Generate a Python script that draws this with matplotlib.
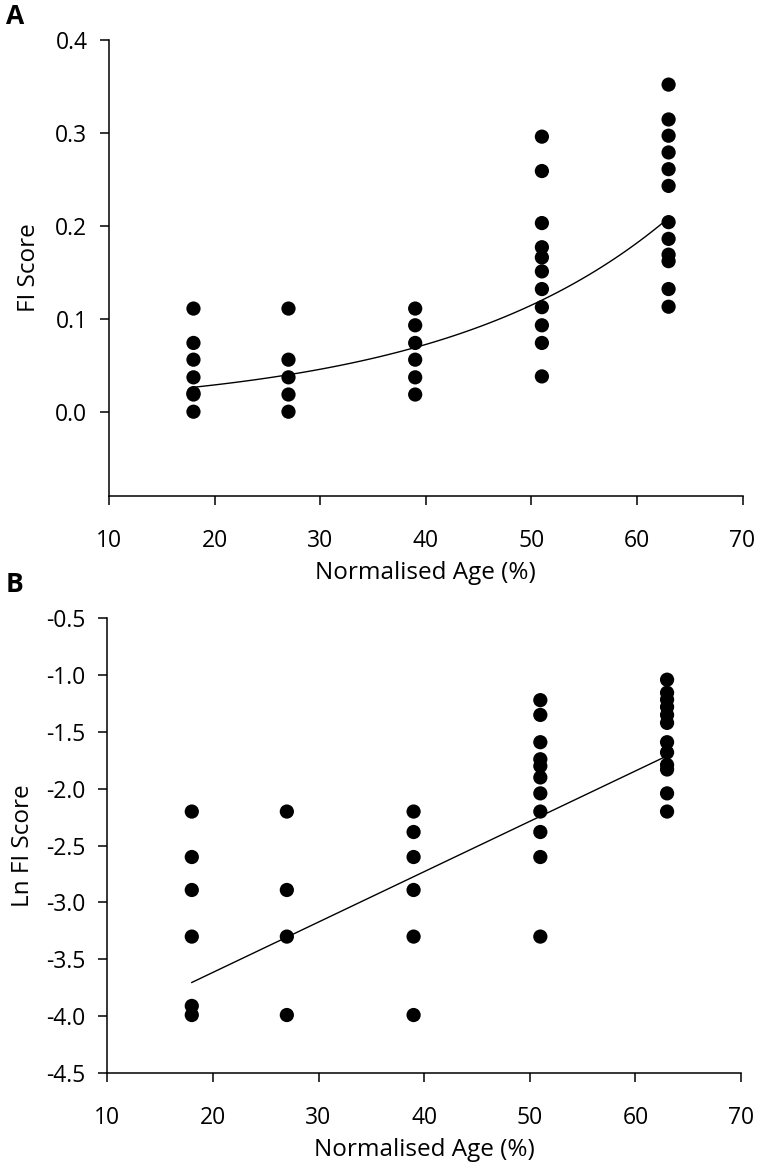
import numpy as np
import matplotlib
matplotlib.use("Agg")
import matplotlib.pyplot as plt

plt.rcParams["font.family"] = ["Open Sans", "DejaVu Sans"]

# ---- data ----
# panel A: FI score by normalised age
age_18 = [0.111, 0.074, 0.056, 0.037, 0.020, 0.0185, 0.0]
age_27 = [0.111, 0.056, 0.037, 0.0185, 0.0]
age_39 = [0.111, 0.093, 0.074, 0.056, 0.037, 0.0185]
age_51 = [0.296, 0.259, 0.203, 0.177, 0.166, 0.151, 0.132, 0.1125, 0.093, 0.074, 0.038]
age_63 = [0.352, 0.3145, 0.297, 0.279, 0.261, 0.243, 0.204, 0.186, 0.169, 0.162, 0.132, 0.113]
ages = [18, 27, 39, 51, 63]
fi_groups = [age_18, age_27, age_39, age_51, age_63]

# panel B: ln FI score (zero scores dropped)
ln_18 = [-2.20, -2.60, -2.89, -3.30, -3.91, -3.99]
ln_27 = [-2.20, -2.89, -3.30, -3.99]
ln_39 = [-2.20, -2.38, -2.60, -2.89, -3.30, -3.99]
ln_51 = [-1.22, -1.35, -1.59, -1.74, -1.80, -1.90, -2.04, -2.20, -2.38, -2.60, -3.30]
ln_63 = [-1.04, -1.155, -1.215, -1.28, -1.35, -1.42, -1.59, -1.68, -1.79, -1.83, -2.04, -2.20]
ln_groups = [ln_18, ln_27, ln_39, ln_51, ln_63]

# trendlines (coefficients)
exp_lna, exp_b = -4.466, 0.046     # A: y = exp(lna) * exp(b x)
lin_a, lin_b = -4.501, 0.0443      # B: y = a + b x
fit_x = [18, 63]

W, H = 760, 1165
FS = 16.5   # tick labels
LFS = 17.5  # axis titles
fig = plt.figure(figsize=(W / 100, H / 100), dpi=100)

def px_axes(l, t, r, b):
    return fig.add_axes([l / W, 1 - b / H, (r - l) / W, (b - t) / H])

def style(ax):
    ax.spines["top"].set_visible(False)
    ax.spines["right"].set_visible(False)
    for s in ("left", "bottom"):
        ax.spines[s].set_linewidth(1.1)
    ax.tick_params(direction="out", length=6.5, width=1.1, labelsize=FS, pad=9)
    ax.tick_params(axis="x", pad=17)
    ax.set_xlim(10, 70)
    ax.set_xticks(range(10, 71, 10))
    ax.set_xlabel("Normalised Age (%)", fontsize=LFS, labelpad=6)

def dots(ax, groups):
    for x, vals in zip(ages, groups):
        ax.scatter([x] * len(vals), vals, s=105, c="black", edgecolors="none",
                   zorder=3, clip_on=False)

# ---- A ----
ax1 = px_axes(109, 40, 742.5, 496)
style(ax1)
dots(ax1, fi_groups)
xx = np.linspace(fit_x[0], fit_x[1], 100)
ax1.plot(xx, np.exp(exp_lna + exp_b * xx), color="black", lw=1.0, zorder=4)
ax1.set_ylim(-0.0907, 0.4)
ax1.set_yticks([0.0, 0.1, 0.2, 0.3, 0.4])
ax1.set_yticklabels(["0.0", "0.1", "0.2", "0.3", "0.4"])
ax1.set_ylabel("FI Score", fontsize=LFS, labelpad=10)

# ---- B ----
ax2 = px_axes(107.3, 618.3, 741, 1073)
style(ax2)
dots(ax2, ln_groups)
xl = np.array(fit_x, dtype=float)
ax2.plot(xl, lin_a + lin_b * xl, color="black", lw=1.0, zorder=4)
ax2.set_ylim(-4.5, -0.5)
yt = np.arange(-4.5, -0.49, 0.5)
ax2.set_yticks(yt)
ax2.set_yticklabels([f"{v:.1f}" for v in yt])
ax2.set_ylabel("Ln FI Score", fontsize=LFS, labelpad=8)

fig.text(6 / W, 1 - 16 / H, "A", fontsize=19, fontweight="bold", va="center", ha="left")
fig.text(6 / W, 1 - 584 / H, "B", fontsize=19, fontweight="bold", va="center", ha="left")

fig.savefig("out.png", dpi=100)
